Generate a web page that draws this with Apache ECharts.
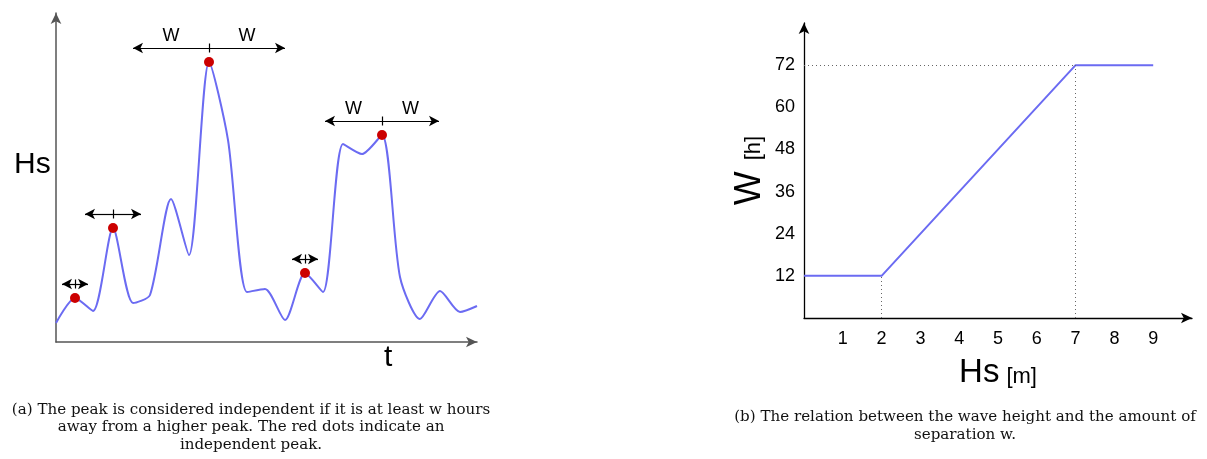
<!DOCTYPE html>
<html>
<head>
<meta charset="utf-8">
<script src="https://cdn.jsdelivr.net/npm/echarts@6/dist/echarts.min.js"></script>
<style>
  html, body { margin: 0; padding: 0; background: #fff; }
  #main { width: 1207px; height: 459px; }
</style>
</head>
<body>
<div id="main"></div>
<script>
// (a) sketched Hs time series
const tVals  = [0, 19, 37, 57, 77, 94, 115, 133, 153, 172, 191, 209, 229, 249, 267, 287, 306, 326, 344, 364, 384, 404, 421];
const hsVals = [19, 44, 31, 114, 39, 47, 143, 87, 280, 202, 50, 53, 22, 69, 50, 198, 188, 207, 65, 23, 51, 30, 36];
// independent peaks (index into the series) and their half window w
const peakIdx = [1, 3, 8, 13, 17];
const halfW = [13, 28, 76, 13, 57];
const showW = [false, false, true, false, true];

// (b) separation w as a function of Hs
const hsX = [0, 2, 7, 9];
const wY = [12, 12, 72, 72];
const xTickLabels = [1, 2, 3, 4, 5, 6, 7, 8, 9];
const yTickLabels = [12, 24, 36, 48, 60, 72];

const captionA = '(a) The peak is considered independent if it is at least w hours\naway from a higher peak. The red dots indicate an\nindependent peak.';
const captionB = '(b) The relation between the wave height and the amount of\nseparation w.';

const BLUE = '#6b6bf2';
const ARROW_GAP = 14;

let chart = echarts.init(document.getElementById('main'));

// arrows above each peak: two halves plus a small tick in the middle
let arrowLines = [];
peakIdx.forEach((idx, i) => {
  let t = tVals[idx];
  let y = hsVals[idx] + ARROW_GAP;
  let w = halfW[i];
  let lab = {
    show: showW[i],
    formatter: 'W',
    position: 'insideMiddleTop',
    distance: 3,
    color: '#000',
    fontSize: 18,
    fontFamily: 'Liberation Sans'
  };
  arrowLines.push([{ coord: [t - w, y], symbol: 'arrow', label: lab }, { coord: [t, y], symbol: 'none' }]);
  arrowLines.push([{ coord: [t, y], symbol: 'none', label: lab }, { coord: [t + w, y], symbol: 'arrow' }]);
  arrowLines.push([{ coord: [t, y - 4.5], symbol: 'none', label: { show: false } }, { coord: [t, y + 4.5], symbol: 'none' }]);
});

let option = {
  animation: false,
  grid: [
    { left: 56, top: 13, width: 421, height: 329 },
    { left: 804, top: 23, width: 388, height: 295 }
  ],
  xAxis: [
    {
      gridIndex: 0, type: 'value', min: 0, max: 421,
      axisLine: { show: true, symbol: ['none', 'arrow'], symbolSize: [8, 11], lineStyle: { color: '#555', width: 1.5 } },
      axisTick: { show: false }, axisLabel: { show: false }, splitLine: { show: false }
    },
    {
      gridIndex: 1, type: 'value', min: 0, max: 10, interval: 1,
      axisLine: { show: true, symbol: ['none', 'arrow'], symbolSize: [8, 11], lineStyle: { color: '#000', width: 1.3 } },
      axisTick: { show: false }, splitLine: { show: false },
      axisLabel: {
        margin: 12, color: '#000', fontSize: 18, fontFamily: 'Liberation Sans',
        formatter: v => xTickLabels.includes(v) ? String(v) : ''
      },
      name: '{a|Hs}{b|[m]}', nameLocation: 'middle', nameGap: 38,
      nameTextStyle: {
        rich: {
          a: { fontSize: 33, fontFamily: 'Liberation Sans', color: '#000', padding: [0, 7, 0, 0] },
          b: { fontSize: 22, fontFamily: 'Liberation Sans', color: '#000', padding: [8, 0, 0, 0] }
        }
      }
    }
  ],
  yAxis: [
    {
      gridIndex: 0, type: 'value', min: 0, max: 329,
      axisLine: { show: true, symbol: ['none', 'arrow'], symbolSize: [8, 11], lineStyle: { color: '#555', width: 1.5 } },
      axisTick: { show: false }, axisLabel: { show: false }, splitLine: { show: false }
    },
    {
      gridIndex: 1, type: 'value', min: 0, max: 84, interval: 12,
      axisLine: { show: true, symbol: ['none', 'arrow'], symbolSize: [8, 11], lineStyle: { color: '#000', width: 1.3 } },
      axisTick: { show: false }, splitLine: { show: false },
      axisLabel: {
        margin: 9, color: '#000', fontSize: 18, fontFamily: 'Liberation Sans',
        formatter: v => yTickLabels.includes(v) ? String(v) : ''
      },
      name: '{a|W}{b|[h]}', nameLocation: 'middle', nameGap: 36, nameRotate: 90,
      nameTextStyle: {
        rich: {
          a: { fontSize: 36, fontFamily: 'Liberation Sans', color: '#000', padding: [0, 11, 0, 0] },
          b: { fontSize: 22, fontFamily: 'Liberation Sans', color: '#000', padding: [8, 0, 0, 0] }
        }
      }
    }
  ],
  series: [
    {
      type: 'line', xAxisIndex: 0, yAxisIndex: 0,
      data: tVals.map((t, i) => [t, hsVals[i]]),
      smooth: 0.25, showSymbol: false, silent: true,
      lineStyle: { color: BLUE, width: 2 }
    },
    {
      type: 'scatter', xAxisIndex: 0, yAxisIndex: 0,
      data: peakIdx.map(i => [tVals[i], hsVals[i]]),
      symbolSize: 10, itemStyle: { color: '#cc0000', opacity: 1 }, silent: true, z: 5,
      markLine: {
        silent: true, symbolSize: [8, 10],
        lineStyle: { color: '#000', width: 1.2, type: 'solid' },
        emphasis: { disabled: true },
        data: arrowLines
      }
    },
    {
      type: 'line', xAxisIndex: 1, yAxisIndex: 1,
      data: hsX.map((x, i) => [x, wY[i]]),
      showSymbol: false, silent: true, z: 3,
      lineStyle: { color: BLUE, width: 2 },
      markLine: {
        silent: true, symbol: 'none',
        label: { show: false },
        lineStyle: { color: '#666', width: 1, type: [1, 3] },
        emphasis: { disabled: true },
        data: [
          [{ coord: [0, wY[2]] }, { coord: [hsX[2], wY[2]] }],
          [{ coord: [hsX[1], 0] }, { coord: [hsX[1], wY[1]] }],
          [{ coord: [hsX[2], 0] }, { coord: [hsX[2], wY[2]] }]
        ]
      }
    }
  ],
  graphic: [
    { type: 'text', left: 14, top: 150, style: { text: 'Hs', font: '30px "Liberation Sans"', fill: '#000' } },
    { type: 'text', left: 384, top: 343, style: { text: 't', font: '30px "Liberation Sans"', fill: '#000' } },
    {
      type: 'text', x: 251, y: 401,
      style: { text: captionA, font: '15.1px "DejaVu Serif"', fill: '#111', align: 'center', lineHeight: 17.5 }
    },
    {
      type: 'text', x: 965, y: 408,
      style: { text: captionB, font: '15.1px "DejaVu Serif"', fill: '#111', align: 'center', lineHeight: 18 }
    }
  ]
};
chart.setOption(option);
</script>
</body>
</html>
